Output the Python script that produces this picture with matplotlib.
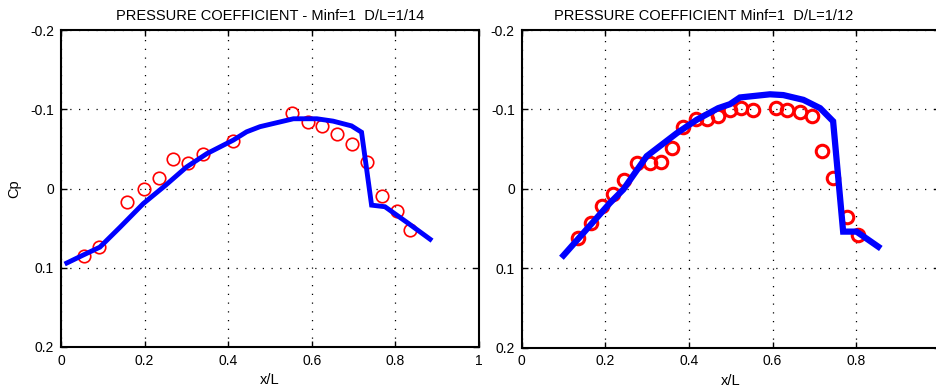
import matplotlib
matplotlib.use("Agg")
import matplotlib.pyplot as plt

plt.rcParams['font.family'] = ['Liberation Sans', 'DejaVu Sans']

# ---- Data: left panel (D/L = 1/14) ----
line1_x = [0.014, 0.053, 0.093, 0.141, 0.197, 0.250, 0.300, 0.349, 0.412, 0.444,
           0.476, 0.556, 0.612, 0.651, 0.695, 0.719, 0.743, 0.775, 0.831, 0.883]
line1_cp = [0.094, 0.084, 0.074, 0.049, 0.019, -0.004, -0.027, -0.044, -0.061, -0.0715,
            -0.078, -0.088, -0.088, -0.085, -0.079, -0.071, 0.021, 0.023, 0.044, 0.064]
exp1_x = [0.056, 0.091, 0.159, 0.199, 0.235, 0.267, 0.303, 0.340, 0.412, 0.553,
          0.590, 0.625, 0.660, 0.695, 0.731, 0.767, 0.803, 0.835]
exp1_cp = [0.085, 0.074, 0.017, 0.000, -0.013, -0.037, -0.032, -0.043, -0.060, -0.095,
           -0.084, -0.079, -0.069, -0.056, -0.034, 0.010, 0.028, 0.052]

# ---- Data: right panel (D/L = 1/12) ----
line2_x = [0.100, 0.211, 0.243, 0.299, 0.371, 0.419, 0.470, 0.498, 0.522, 0.594,
           0.626, 0.674, 0.714, 0.745, 0.769, 0.801, 0.853]
line2_cp = [0.084, 0.018, 0.001, -0.041, -0.070, -0.087, -0.1015, -0.1065, -0.115, -0.119,
            -0.118, -0.112, -0.1015, -0.085, 0.054, 0.054, 0.073]
exp2_x = [0.135, 0.165, 0.191, 0.218, 0.245, 0.275, 0.307, 0.333, 0.360, 0.387,
          0.417, 0.443, 0.470, 0.498, 0.524, 0.553, 0.608, 0.634, 0.666, 0.694,
          0.719, 0.745, 0.778, 0.805]
exp2_cp = [0.062, 0.043, 0.022, 0.006, -0.011, -0.033, -0.033, -0.034, -0.051, -0.078,
           -0.088, -0.088, -0.092, -0.099, -0.102, -0.099, -0.102, -0.099, -0.097, -0.092,
           -0.047, -0.013, 0.036, 0.058]

xticks = [0, 0.2, 0.4, 0.6, 0.8, 1]
xticklabels = ['0', '0.2', '0.4', '0.6', '0.8', '1']
yticks = [-0.2, -0.1, 0, 0.1, 0.2]
yticklabels = ['-0.2', '-0.1', '0', '0.1', '0.2']

title1 = 'PRESSURE COEFFICIENT - Minf=1  D/L=1/14'
title2 = 'PRESSURE COEFFICIENT Minf=1  D/L=1/12'

W, H = 936, 392
fig = plt.figure(figsize=(W / 100, H / 100), dpi=100)

def make_ax(left_px, right_px, top_px, bottom_px):
    return fig.add_axes([left_px / W, 1 - bottom_px / H,
                         (right_px - left_px) / W, (bottom_px - top_px) / H])

ax1 = make_ax(61, 479, 30, 347)
ax2 = make_ax(521.7, 939.7, 30, 347.5)

def style(ax):
    ax.set_xlim(0, 1)
    ax.set_ylim(0.2, -0.2)
    ax.set_xticks(xticks)
    ax.set_xticklabels(xticklabels)
    ax.set_yticks(yticks)
    ax.set_yticklabels(yticklabels)
    ax.grid(True, color='black', linestyle=(0, (1, 6)), linewidth=0.9)
    ax.tick_params(direction='in', length=4, width=1, labelsize=10,
                   top=True, right=True, pad=5, colors='black')
    for s in ax.spines.values():
        s.set_linewidth(1.5)
    ax.set_xlabel('x/L', fontsize=10.5, labelpad=4)

style(ax1)
ax1.plot(exp1_x, exp1_cp, linestyle='none', marker='o', markersize=9,
         markerfacecolor='none', markeredgecolor='red', markeredgewidth=1.2, zorder=3)
ax1.plot(line1_x, line1_cp, color='#0000ff', linewidth=3.5, zorder=4,
         solid_joinstyle='miter')
ax1.set_ylabel('Cp', fontsize=10.5)
ax1.yaxis.set_label_coords(-0.094, 0.5)
ax1.set_title(title1, fontsize=10.5, pad=7)

style(ax2)
ax2.plot(exp2_x, exp2_cp, linestyle='none', marker='o', markersize=9,
         markerfacecolor='none', markeredgecolor='red', markeredgewidth=2.2, zorder=3)
ax2.plot(line2_x, line2_cp, color='#0000ff', linewidth=4.5, zorder=4,
         solid_joinstyle='miter')
ax2.set_title(title2, fontsize=10.5, pad=7, x=0.436)

fig.savefig('out.png', dpi=100)
